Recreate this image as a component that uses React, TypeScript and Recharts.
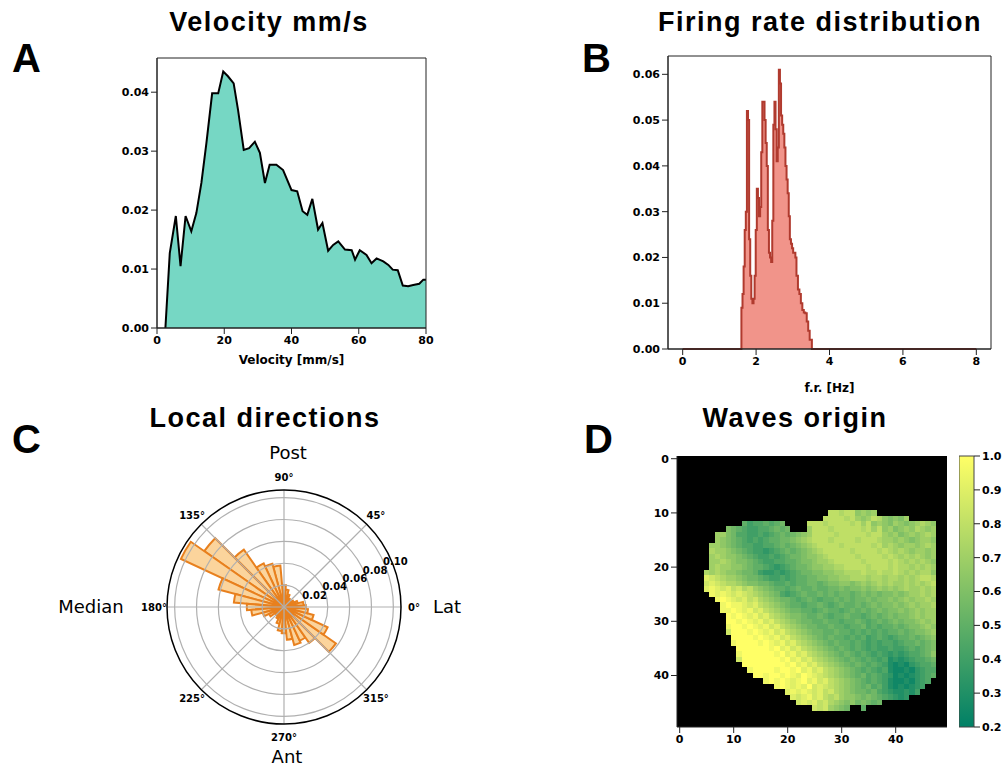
import React from 'react';
import {
  AreaChart, Area, XAxis, YAxis, ReferenceArea,
  RadarChart, Radar, PolarGrid, PolarAngleAxis, PolarRadiusAxis, Sector,
  ScatterChart, Scatter, CartesianGrid, BarChart, Bar,
} from 'recharts';

// ---- A: velocity distribution ----
const VEL_X = [2.5, 3.8, 5.6, 7.0, 8.5, 10.2, 11.7, 13.2, 14.7, 16.4, 18.2, 19.7, 21.1, 22.8, 24.1, 25.8, 27.4, 29.1, 30.6, 32.1, 33.5, 35.5, 37.5, 40.0, 41.7, 43.3, 44.7, 46.2, 47.9, 49.2, 50.9, 52.4, 53.9, 55.9, 57.9, 58.9, 60.3, 62.3, 63.8, 65.3, 67.3, 68.8, 70.1, 71.6, 73.1, 74.7, 76.2, 78.0, 79.2, 80];
const VEL_DENS = [0, 0.0127, 0.019, 0.0105, 0.019, 0.0164, 0.0195, 0.0246, 0.0314, 0.0398, 0.0398, 0.0435, 0.0427, 0.0415, 0.037, 0.0302, 0.0305, 0.0316, 0.0297, 0.0246, 0.0277, 0.0277, 0.0268, 0.0234, 0.0232, 0.0198, 0.0192, 0.0219, 0.0167, 0.0178, 0.0131, 0.0141, 0.0147, 0.0133, 0.0132, 0.0116, 0.0132, 0.0124, 0.011, 0.0118, 0.0113, 0.0107, 0.0099, 0.0098, 0.0072, 0.0071, 0.0073, 0.0075, 0.0082, 0.0082];
const VEL_XTICKS = [0, 20, 40, 60, 80];
const VEL_YTICKS = [0, 0.01, 0.02, 0.03, 0.04];

// ---- B: firing rate histogram (left bin edges + density) ----
const FR_EDGES = [0, 1.60, 1.63, 1.66, 1.69, 1.72, 1.75, 1.78, 1.81, 1.84, 1.87, 1.90, 1.93, 1.96, 1.99, 2.02, 2.05, 2.08, 2.11, 2.14, 2.17, 2.20, 2.23, 2.26, 2.29, 2.32, 2.35, 2.38, 2.41, 2.44, 2.47, 2.50, 2.53, 2.56, 2.59, 2.62, 2.65, 2.68, 2.71, 2.74, 2.77, 2.80, 2.83, 2.86, 2.89, 2.92, 2.95, 2.98, 3.01, 3.04, 3.07, 3.10, 3.14, 3.18, 3.22, 3.26, 3.30, 3.34, 3.38, 3.42, 3.46, 3.52, 8];
const FR_DENS = [0, 0.009, 0.012, 0.018, 0.026, 0.030, 0.052, 0.050, 0.024, 0.016, 0.011, 0.010, 0.011, 0.016, 0.026, 0.035, 0.033, 0.029, 0.031, 0.043, 0.054, 0.054, 0.050, 0.045, 0.040, 0.026, 0.021, 0.020, 0.019, 0.028, 0.049, 0.054, 0.048, 0.041, 0.044, 0.061, 0.058, 0.051, 0.049, 0.047, 0.044, 0.040, 0.037, 0.034, 0.029, 0.024, 0.023, 0.022, 0.021, 0.021, 0.020, 0.016, 0.013, 0.012, 0.010, 0.0085, 0.008, 0.0078, 0.006, 0.004, 0.002, 0, 0];
const FR_XTICKS = [0, 2, 4, 6, 8];
const FR_YTICKS = [0, 0.01, 0.02, 0.03, 0.04, 0.05, 0.06];

// ---- C: local directions rose (bin centres in degrees) ----
const ROSE_ANGLES = [0, 10, 20, 30, 40, 50, 60, 70, 80, 90, 100, 110, 120, 130, 140, 150, 160, 170, 180, 190, 200, 210, 220, 230, 240, 250, 260, 270, 280, 290, 300, 310, 320, 330, 340, 350];
const ROSE_DENS = [0.020, 0.018, 0.013, 0.010, 0.008, 0.008, 0.009, 0.012, 0.016, 0.020, 0.038, 0.041, 0.044, 0.064, 0.089, 0.104, 0.062, 0.046, 0.034, 0.030, 0.020, 0.015, 0.010, 0.010, 0.012, 0.016, 0.022, 0.024, 0.030, 0.036, 0.034, 0.040, 0.058, 0.044, 0.028, 0.022];
const ANGLE_LABELS = ['0°', '45°', '90°', '135°', '180°', '225°', '270°', '315°'];
const GRID_ANGLES = [0, 45, 90, 135, 180, 225, 270, 315];
const RADIUS_TICKS = [0.02, 0.04, 0.06, 0.08, 0.10];
const R_MAX = 0.107;

// ---- D: waves origin map: [row, first column, codes] ('.' = masked) ----
const WAVE_ROWS: [number, number, string][] = [
  [10, 28, '88f88e7e7'],
  [11, 27, '8888f87e78fe6e67'],
  [12, 12, '54cc5c5d....888f8888f878e7e67e6e7f7e'],
  [13, 9, '6d5c44cc5d5d...7888f88888f878e76e7ef7e7'],
  [14, 7, '776dcc44c4c5d5d6e78888f88888f887e76e7e7f7'],
  [15, 7, '7e6d5c4c4c55dd6e7f888f8888f888f77e7e6e77e'],
  [16, 6, '77e6d5cc44cc5d5d6e7f8888f88888f87f7e77e7f7'],
  [17, 6, 'f77e6d5c44b4c5d5d6e7f88888f8888f8f7f7e77e7'],
  [18, 6, '7f7ee6d5c44c4c5dd6ee7f88888f8888f8f7f7f7e7'],
  [19, 6, '77f7e66d5c44cc55d66e77f88888f8888f8f7f7f7e'],
  [20, 6, '7f77ee6d55c4b4c5dd6ee77ff8888f888f8ff7f7f7'],
  [21, 5, 'f7f7ee6dd54bb4b4c5dd66ee77fff8ff8ff8f7f7ffe'],
  [22, 5, '9g8f77e6dd5c44c4c55dd66ee77fff7ff7ff7f7f88f'],
  [23, 5, 'g9g8ff7e66dd5cc5c55dd5d66ee6e7e7f7f77f7f7f8'],
  [24, 5, '9h9g98gf87e6d55c5d55d55dd6d66e6e7e7e7f77f7f'],
  [25, 6, 'h9h9g9g8f7e6dc4c5d55d5d5dd5d6d6d66e6e77f7f'],
  [26, 7, 'hTh9g98gf7e6dd5c5d5c55d5d5dd6d66e6e7e77f7'],
  [27, 8, 'hThh9g98f7e6d55c55d5c5d55d5d6d66e6e7e77f'],
  [28, 8, 'hhTh9hg98f7e6dd55c5d55c5d5d5d6d66e6e7e77'],
  [29, 9, 'ThTh9hg98f7e66d55d5c55d55c5d5d6d66e7e77'],
  [30, 9, 'TThTh9hg98f7e6dd55d55c55d5c5d5d6d66e7e7'],
  [31, 9, 'hTThTh9hg98f7e6dd55d55c55dc5c55d5d66e7e'],
  [32, 9, 'gTTThTh9hg98f7e6dd55d55c5c5c5c55d5d66e7'],
  [33, 10, 'TTTThTh9hg98f7e6d5d55c5c54c5c4c55d5d6e'],
  [34, 10, 'hTTTThTh9hg98f7e6d5d55c5c4c4cc4c55d5d6'],
  [35, 11, 'TTTTTThT9hg98f7e6d5d5c5c4c44c44c5c5d6'],
  [36, 11, 'hTTTTTThT9hg98f7e6d5d5c5c4c4b4b4cc5de'],
  [37, 11, 'gTTTTTTThT9hg98f7e6d5d5c5c4c3b3b4cc5d'],
  [38, 12, 'TTTTTTTThT9hg98f7e6d5d5c5c43a3ab4cc5'],
  [39, 13, 'hTTTThTThT9hg98f7e6d5c5c4c3aa3ab4cc'],
  [40, 14, 'TThTThTh9Th9g8f7e6d5dc5c4ba3a3b4c5'],
  [41, 16, 'hThTh9hT9hg98f7e6d5c5c43aa3ab4c'],
  [42, 18, 'hTh9h9Tg9g8f7e6d5dc543a3a3b4'],
  [43, 20, '9h9h9g98gf7e6dd5dc4b33b34'],
  [44, 21, '9g9hg98f87ee6d6d5c4b3b'],
  [45, 22, 'g9g98gf7e6ed6d5d'],
  [46, 25, 'g8g7e6d..5'],
];
const LEVELS: Record<string, number> = {
  '2': 0.2, '3': 0.3, '4': 0.4, '5': 0.5, '6': 0.6, '7': 0.7, '8': 0.8, '9': 0.9, T: 1.0,
  a: 0.25, b: 0.35, c: 0.45, d: 0.55, e: 0.65, f: 0.75, g: 0.85, h: 0.95,
};
const MAP_TICKS = [0, 10, 20, 30, 40];
const CB_TICKS = [0.2, 0.3, 0.4, 0.5, 0.6, 0.7, 0.8, 0.9, 1.0];

const TICK_FONT = '"DejaVu Sans", sans-serif';
const TITLE_FONT = '"Liberation Sans", Arial, sans-serif';
const tickStyle = { fill: '#000', fontSize: 11, fontWeight: 700, fontFamily: TICK_FONT };
const axisLabel = { fill: '#000', fontSize: 12, fontWeight: 700, fontFamily: TICK_FONT };
const AX = '#222';

// matplotlib "summer" colormap, vmin 0.2 / vmax 1.0
function summer(v: number) {
  const t = Math.max(0, Math.min(1, (v - 0.2) / 0.8));
  return `rgb(${Math.round(255 * t)},${Math.round(255 * (0.5 + 0.5 * t))},102)`;
}

function Title({ text, cx, top }: { text: string; cx: number; top: number }) {
  return (
    <div style={{ position: 'absolute', left: cx - 200, top, width: 400, textAlign: 'center', fontFamily: TITLE_FONT, fontWeight: 700, fontSize: 27, letterSpacing: 1.5, lineHeight: 1 }}>
      {text}
    </div>
  );
}

function Letter({ text, left, top }: { text: string; left: number; top: number }) {
  return (
    <div style={{ position: 'absolute', left, top, fontFamily: TITLE_FONT, fontWeight: 700, fontSize: 40, lineHeight: 1 }}>{text}</div>
  );
}

function PolarWord({ text, cx, cy }: { text: string; cx: number; cy: number }) {
  return (
    <div style={{ position: 'absolute', left: cx, top: cy, transform: 'translate(-50%, -50%)', fontFamily: TICK_FONT, fontSize: 18, lineHeight: 1, whiteSpace: 'nowrap' }}>{text}</div>
  );
}

function VelocityChart() {
  const data = VEL_X.map((x, i) => ({ x, d: VEL_DENS[i] }));
  return (
    <AreaChart width={340} height={340} data={data} margin={{ top: 18, right: 14, left: 0, bottom: 0 }}>
      <XAxis type="number" dataKey="x" domain={[0, 80]} ticks={VEL_XTICKS} height={52} tick={tickStyle}
        tickLine={{ stroke: AX }} axisLine={{ stroke: AX }}
        label={{ value: 'Velocity [mm/s]', position: 'insideBottom', offset: 16, ...axisLabel }} />
      <YAxis type="number" domain={[0, 0.0458]} ticks={VEL_YTICKS} width={57} tick={tickStyle}
        tickFormatter={(v: number) => v.toFixed(2)} tickLine={{ stroke: AX }} axisLine={{ stroke: AX }} />
      <Area type="linear" dataKey="d" stroke="#000" strokeWidth={2} fill="#76d7c4" fillOpacity={1} isAnimationActive={false} />
      <ReferenceArea x1={0} x2={80} y1={0} y2={0.0458} fill="none" stroke={AX} strokeWidth={1} />
    </AreaChart>
  );
}

function FiringChart() {
  const data = FR_EDGES.map((x, i) => ({ x, d: FR_DENS[i] }));
  return (
    <AreaChart width={400} height={360} data={data} margin={{ top: 16, right: 9, left: 0, bottom: 0 }}>
      <XAxis type="number" dataKey="x" domain={[-0.4, 8.4]} ticks={FR_XTICKS} height={51} tick={tickStyle}
        tickLine={{ stroke: AX }} axisLine={{ stroke: AX }}
        label={{ value: 'f.r. [Hz]', position: 'insideBottom', offset: 8, ...axisLabel }} />
      <YAxis type="number" domain={[0, 0.064]} ticks={FR_YTICKS} width={68} tick={tickStyle}
        tickFormatter={(v: number) => v.toFixed(2)} tickLine={{ stroke: AX }} axisLine={{ stroke: AX }} />
      <Area type="stepAfter" dataKey="d" stroke="#b03a2e" strokeWidth={2} fill="#f1948a" fillOpacity={1} isAnimationActive={false} />
      <ReferenceArea x1={-0.4} x2={8.4} y1={0} y2={0.064} fill="none" stroke={AX} strokeWidth={1} />
    </AreaChart>
  );
}

function RoseShape(props: any) {
  const pts = props.points || [];
  const half = 180 / Math.max(1, pts.length);
  return (
    <g>
      {pts.map((p: any, i: number) => (
        <Sector key={i} cx={p.cx} cy={p.cy} innerRadius={0} outerRadius={p.radius}
          startAngle={p.angle - half} endAngle={p.angle + half}
          fill="#fbd49c" stroke="#e8801e" strokeWidth={2} />
      ))}
    </g>
  );
}

const NoShape = () => <g />;

function AngleTick(p: any) {
  return (
    <text x={p.x} y={p.y} textAnchor="middle" dominantBaseline="central" fill="#000"
      style={{ fontSize: 10, fontWeight: 700, fontFamily: TICK_FONT }}>{p.payload.value}</text>
  );
}

function RadiusTick(p: any) {
  return (
    <text x={p.x - 2} y={p.y} textAnchor="start" fill="#000"
      style={{ fontSize: 10, fontWeight: 700, fontFamily: TICK_FONT }}>{Number(p.payload.value).toFixed(2)}</text>
  );
}

function RosePanel() {
  const bars = ROSE_ANGLES.map((a, i) => ({ angle: a, value: ROSE_DENS[i] }));
  const labels = ANGLE_LABELS.map((l) => ({ label: l }));
  const layer: React.CSSProperties = { position: 'absolute', left: 0, top: 0, pointerEvents: 'none' };
  // recharts offsets category angles by one band on a full counter-clockwise circle; start one band earlier
  return (
    <div style={{ position: 'absolute', left: 134, top: 457, width: 300, height: 300 }}>
      <div style={layer}>
        <RadarChart width={300} height={300} cx={150} cy={150} outerRadius={117} data={bars} startAngle={-10} endAngle={350}
          margin={{ top: 0, right: 0, bottom: 0, left: 0 }}>
          <PolarAngleAxis dataKey="angle" tick={false} tickLine={false} axisLine={false} />
          <PolarRadiusAxis domain={[0, R_MAX]} tick={false} tickLine={false} axisLine={false} />
          <Radar dataKey="value" isAnimationActive={false} shape={RoseShape} />
        </RadarChart>
      </div>
      <div style={layer}>
        <RadarChart width={300} height={300} cx={150} cy={150} outerRadius={117} data={bars} startAngle={-10} endAngle={350}
          margin={{ top: 0, right: 0, bottom: 0, left: 0 }}>
          <PolarGrid gridType="circle" polarAngles={GRID_ANGLES} stroke="#b0b0b0" strokeWidth={1.2} />
          <PolarAngleAxis dataKey="angle" tick={false} tickLine={false} axisLine={false} />
          <PolarRadiusAxis angle={22.5} domain={[0, R_MAX]} ticks={RADIUS_TICKS} tick={RadiusTick}
            tickLine={false} axisLine={false} />
          <Radar dataKey="value" isAnimationActive={false} shape={NoShape} />
        </RadarChart>
      </div>
      <div style={layer}>
        <RadarChart width={300} height={300} cx={150} cy={150} outerRadius={117} data={labels} startAngle={45} endAngle={405}
          margin={{ top: 0, right: 0, bottom: 0, left: 0 }}>
          <PolarAngleAxis dataKey="label" tick={AngleTick} tickLine={false} tickSize={13}
            axisLine={{ stroke: '#000', strokeWidth: 1.5 }} axisLineType="circle" />
        </RadarChart>
      </div>
    </div>
  );
}

function HeatCell(p: any) {
  const s = 5.5;
  return <rect x={p.cx - s / 2} y={p.cy - s / 2} width={s} height={s} fill={summer(p.payload.v)} shapeRendering="crispEdges" />;
}

function WavesChart() {
  const cells: { col: number; row: number; v: number }[] = [];
  WAVE_ROWS.forEach(([row, start, codes]) => {
    codes.split('').forEach((c, k) => {
      if (c !== '.') cells.push({ col: start + k, row, v: LEVELS[c] });
    });
  });
  return (
    <ScatterChart width={325} height={320} margin={{ top: 16, right: 8, bottom: 0, left: 0 }}>
      <CartesianGrid fill="#000" fillOpacity={1} horizontal={false} vertical={false} />
      <XAxis type="number" dataKey="col" domain={[-0.5, 49.5]} ticks={MAP_TICKS} height={33} tick={tickStyle}
        tickLine={{ stroke: AX }} axisLine={{ stroke: AX }} allowDataOverflow />
      <YAxis type="number" dataKey="row" domain={[-0.5, 49.5]} reversed ticks={MAP_TICKS} width={47} tick={tickStyle}
        tickLine={{ stroke: AX }} axisLine={{ stroke: AX }} allowDataOverflow />
      <Scatter data={cells} shape={HeatCell} isAnimationActive={false} />
    </ScatterChart>
  );
}

function ColorBar() {
  return (
    <BarChart width={46} height={320} data={[{ name: 'cb', range: [0.2, 1.0] }]} margin={{ top: 16, right: 0, bottom: 33, left: 0 }}
      barCategoryGap={0}>
      <defs>
        <linearGradient id="summerCb" x1="0" y1="1" x2="0" y2="0">
          <stop offset="0" stopColor={summer(0.2)} />
          <stop offset="1" stopColor={summer(1.0)} />
        </linearGradient>
      </defs>
      <XAxis dataKey="name" hide />
      <YAxis orientation="right" type="number" domain={[0.2, 1]} ticks={CB_TICKS} width={31} tick={tickStyle}
        tickFormatter={(v: number) => v.toFixed(1)} tickLine={{ stroke: AX }} axisLine={false} />
      <Bar dataKey="range" fill="url(#summerCb)" stroke="#444" strokeWidth={1} isAnimationActive={false} />
    </BarChart>
  );
}

export default function App() {
  return (
    <div style={{ position: 'absolute', left: 0, top: 0, width: 1005, height: 767, background: '#fff', overflow: 'hidden' }}>
      <Title text="Velocity mm/s" cx={269} top={9} />
      <Title text="Firing rate distribution" cx={820} top={9} />
      <Title text="Local directions" cx={265} top={405} />
      <Title text="Waves origin" cx={795} top={405} />
      <Letter text="A" left={12} top={38} />
      <Letter text="B" left={582} top={38} />
      <Letter text="C" left={12} top={419} />
      <Letter text="D" left={584} top={419} />

      <div style={{ position: 'absolute', left: 100, top: 40 }}><VelocityChart /></div>
      <div style={{ position: 'absolute', left: 600, top: 40 }}><FiringChart /></div>

      <RosePanel />
      <PolarWord text="Post" cx={288} cy={453} />
      <PolarWord text="Ant" cx={287} cy={757} />
      <PolarWord text="Median" cx={91} cy={607} />
      <PolarWord text="Lat" cx={447} cy={607} />

      <div style={{ position: 'absolute', left: 630, top: 440 }}><WavesChart /></div>
      <div style={{ position: 'absolute', left: 959, top: 440 }}><ColorBar /></div>
    </div>
  );
}
